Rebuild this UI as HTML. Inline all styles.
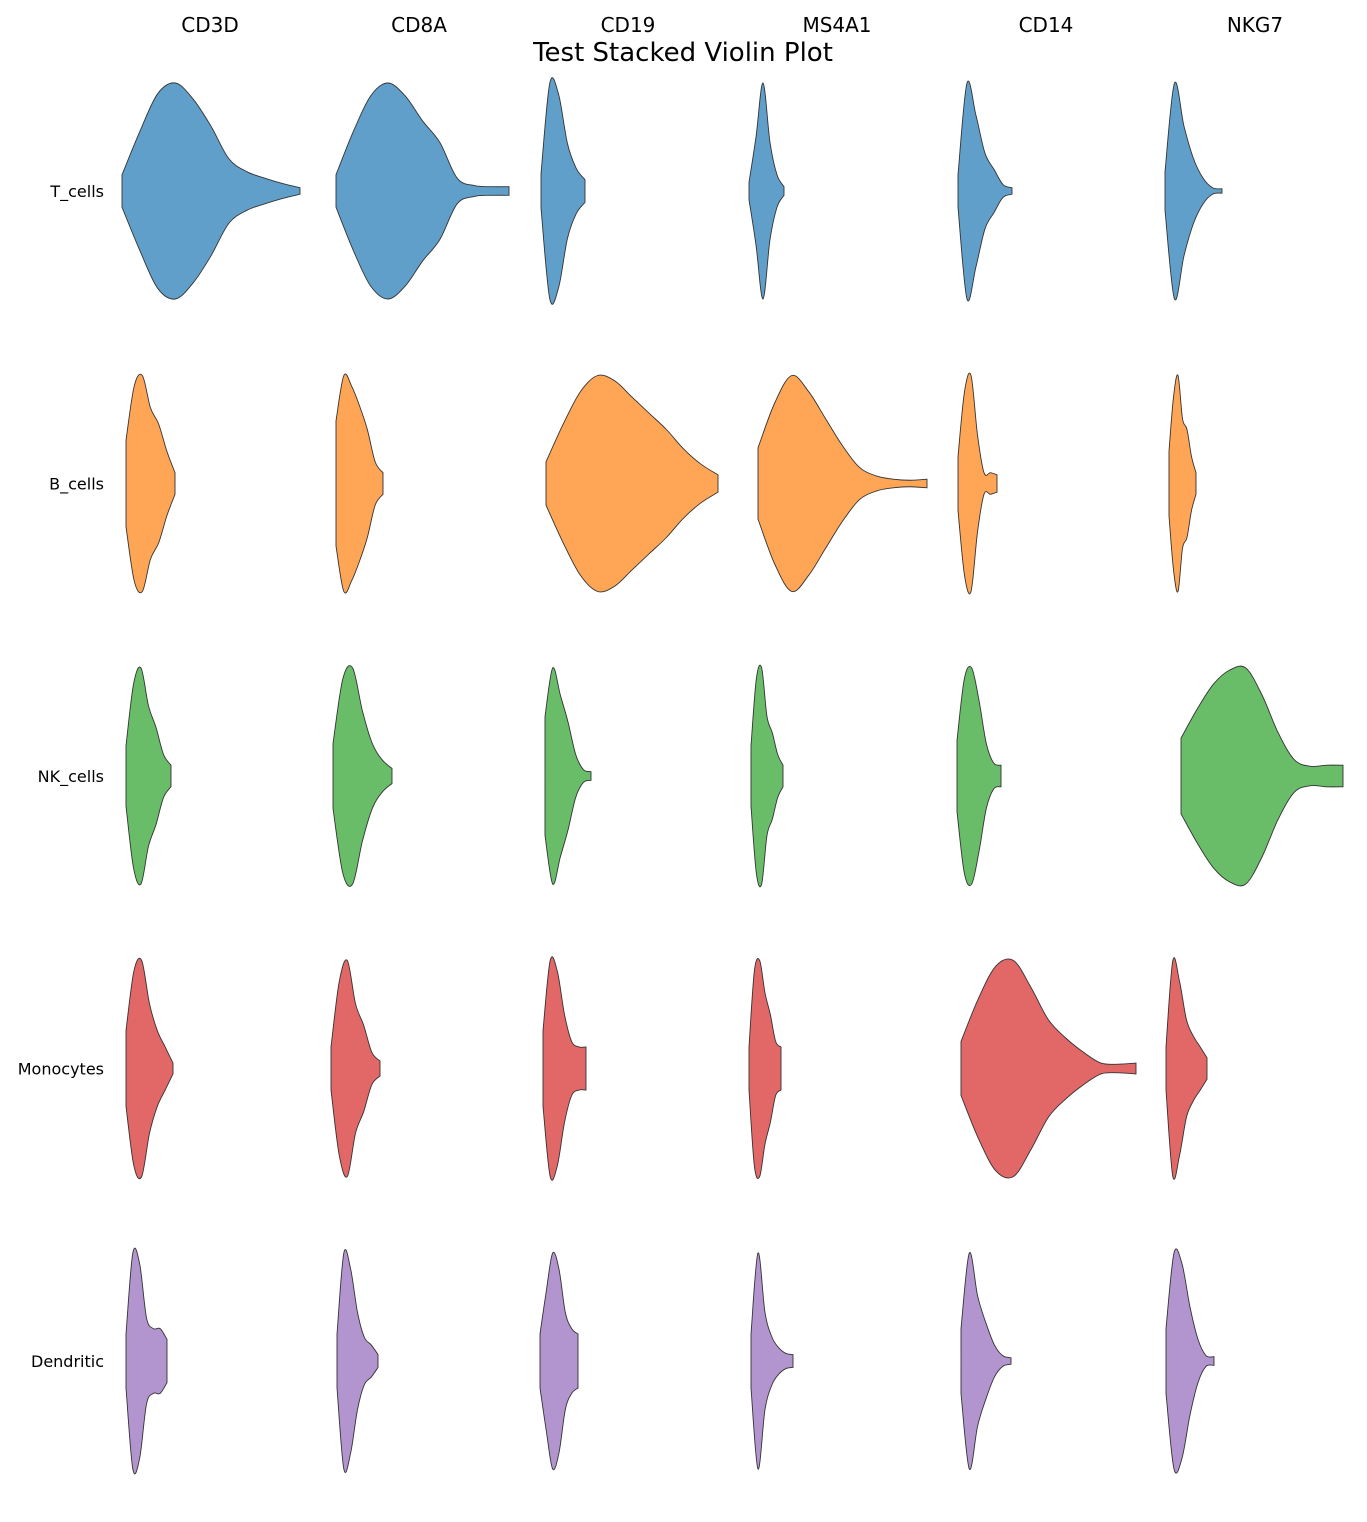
<!DOCTYPE html>
<html><head><meta charset="utf-8">
<style>
html,body{margin:0;padding:0;background:#fff;}
svg text{font-family:"DejaVu Sans","Liberation Sans",sans-serif;}
</style></head>
<body>
<svg id="chart" width="1367" height="1517" viewBox="0 0 1367 1517" xmlns="http://www.w3.org/2000/svg">
<rect width="1367" height="1517" fill="#fff"/>
<text x="683" y="61" font-size="26" text-anchor="middle">Test Stacked Violin Plot</text>
<g id="violins"></g>
</svg>
<script>
const genes = ["CD3D","CD8A","CD19","MS4A1","CD14","NKG7"];
const cellTypes = ["T_cells","B_cells","NK_cells","Monocytes","Dendritic"];
const colors = ["#619fcb","#ffa656","#69bd69","#e26767","#b294cf"];
// expression range per violin (rows = cell types, cols = genes)
const vMin = [
 [0.7,1.2,0.8,0.7,0.7,0.5],
 [1.1,1.2,1.3,1.6,0.7,0.9],
 [1.1,0.9,1.2,0.9,0.6,2.1],
 [1.1,0.7,1.0,0.7,1.0,0.6],
 [1.1,1.3,0.7,0.9,1.0,0.6]
];
const vMax = [
 [18.5,18.5,5.2,4.2,6.1,6.2],
 [6.0,5.9,18.5,18.5,4.6,3.6],
 [5.6,6.8,5.8,4.1,5.0,18.3],
 [5.8,5.6,5.3,3.9,18.5,4.7],
 [5.2,5.4,4.5,5.1,6.0,5.4]
];
// density profiles (relative, sampled evenly from vMin to vMax)
const density = [
 [[0.15,0.55,0.9,1.0,0.85,0.6,0.3,0.18,0.12,0.07,0.03],
  [0.15,0.55,0.88,1.0,0.88,0.65,0.45,0.12,0.05,0.04,0.04],
  [0.15,0.95,0.85,0.42,0.2,0.1],
  [0.08,0.5,1.0,0.45,0.15,0.04],
  [0.15,1.0,0.7,0.35,0.2,0.06,0.03],
  [0.18,1.0,0.6,0.3,0.12,0.03,0.02]],
 [[0.4,0.9,1.0,0.7,0.55,0.3,0.1],
  [0.58,1.0,0.9,0.72,0.5,0.2,0.1],
  [0.2,0.55,0.85,1.0,0.95,0.8,0.65,0.5,0.32,0.18,0.08],
  [0.33,0.75,1.0,0.85,0.6,0.35,0.15,0.07,0.04,0.03,0.04],
  [0.25,0.85,1.0,0.45,0.1,0.1,0.08],
  [0.3,0.8,1.0,0.6,0.5,0.25,0.1]],
 [[0.28,0.85,1.0,0.65,0.45,0.2,0.1],
  [0.3,0.9,1.0,0.6,0.3,0.15,0.07],
  [0.55,1.0,0.75,0.5,0.2,0.06,0.04],
  [0.28,0.9,1.0,0.55,0.4,0.2,0.1],
  [0.33,0.9,1.0,0.7,0.3,0.12,0.1],
  [0.35,0.62,0.85,0.98,1.0,0.75,0.4,0.15,0.09,0.1,0.1]],
 [[0.35,0.9,1.0,0.6,0.35,0.2,0.05],
  [0.2,0.8,1.0,0.6,0.4,0.15,0.07],
  [0.35,1.0,0.9,0.5,0.25,0.2,0.2],
  [0.2,0.9,1.0,0.7,0.5,0.25,0.2],
  [0.25,0.65,0.95,1.0,0.75,0.45,0.28,0.15,0.05,0.04,0.05],
  [0.2,1.0,0.8,0.45,0.3,0.2,0.1]],
 [[0.25,1.0,0.9,0.4,0.3,0.3,0.2],
  [0.25,1.0,0.85,0.45,0.22,0.15,0.06],
  [0.25,0.65,1.0,0.85,0.45,0.3,0.25],
  [0.25,1.0,0.45,0.22,0.12,0.07,0.06],
  [0.3,1.0,0.6,0.35,0.15,0.05,0.03],
  [0.3,1.0,0.9,0.5,0.2,0.05,0.04]]
];

const NS = "http://www.w3.org/2000/svg";
const g = document.getElementById("violins");
const colLeft = c => 115 + c * 209;
const xScale = (c, v) => colLeft(c) + v * 10;
const rowCenter = r => 191 + r * 292.5;
const halfH = 108;

function smoothPath(pts) {
  let d = "";
  for (let i = 0; i < pts.length - 1; i++) {
    const p0 = pts[Math.max(0, i - 1)], p1 = pts[i], p2 = pts[i + 1], p3 = pts[Math.min(pts.length - 1, i + 2)];
    const c1x = p1[0] + (p2[0] - p0[0]) / 6, c1y = p1[1] + (p2[1] - p0[1]) / 6;
    const c2x = p2[0] - (p3[0] - p1[0]) / 6, c2y = p2[1] - (p3[1] - p1[1]) / 6;
    d += ` C${c1x.toFixed(2)},${c1y.toFixed(2)} ${c2x.toFixed(2)},${c2y.toFixed(2)} ${p2[0].toFixed(2)},${p2[1].toFixed(2)}`;
  }
  return d;
}

genes.forEach((gn, c) => {
  const t = document.createElementNS(NS, "text");
  
  
  t.setAttribute("x", 210 + c * 209);
  t.setAttribute("y", 32);
  t.setAttribute("font-size", "20");
  t.setAttribute("text-anchor", "middle");
  t.textContent = gn;
  g.appendChild(t);
});

cellTypes.forEach((ct, r) => {
  const cy = rowCenter(r);
  const t = document.createElementNS(NS, "text");
  
  
  t.setAttribute("x", 104);
  t.setAttribute("y", cy + 6);
  t.setAttribute("font-size", "16");
  t.setAttribute("text-anchor", "end");
  t.textContent = ct;
  g.appendChild(t);

  genes.forEach((gn, c) => {
    const dens = density[r][c];
    const mx = Math.max(...dens);
    const n = dens.length;
    const top = dens.map((dv, i) => {
      const v = vMin[r][c] + (vMax[r][c] - vMin[r][c]) * i / (n - 1);
      return [xScale(c, v), cy - (dv / mx) * halfH];
    });
    const bot = top.map(p => [p[0], 2 * cy - p[1]]).reverse();
    let d = `M${top[0][0]},${top[0][1]}` + smoothPath(top);
    d += ` L${bot[0][0]},${bot[0][1]}` + smoothPath(bot) + " Z";
    const p = document.createElementNS(NS, "path");
    
    
    p.setAttribute("d", d);
    p.setAttribute("fill", colors[r]);
    p.setAttribute("stroke", "#333");
    p.setAttribute("stroke-width", "0.9");
    g.appendChild(p);
  });
});
</script>
</body></html>
